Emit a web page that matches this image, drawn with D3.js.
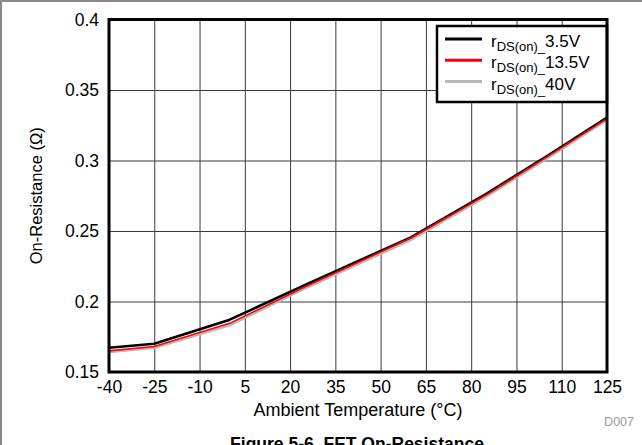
<!DOCTYPE html>
<html>
<head>
<meta charset="utf-8">
<script src="https://cdn.jsdelivr.net/npm/d3@7"></script>
<style>
  html, body { margin: 0; padding: 0; background: #fff; }
  svg { display: block; font-family: "Liberation Sans", Arial, sans-serif; }
</style>
</head>
<body>
<svg id="chart" width="642" height="445"></svg>
<script>
// ---- data ----
const temps = [-40, -25, 0, 25, 60, 85, 105, 125];
const r35  = [0.1672, 0.1700, 0.1871, 0.2118, 0.2455, 0.2763, 0.3030, 0.3305];
const r135 = [0.1650, 0.1681, 0.1845, 0.2105, 0.2450, 0.2756, 0.3024, 0.3297];
const r40  = [0.1642, 0.1672, 0.1832, 0.2094, 0.2437, 0.2745, 0.3013, 0.3288];
const seriesNames = ["3.5V", "13.5V", "40V"];
const seriesColors = ["#000000", "#ff0000", "#b8b8b8"];
const xTicks = [-40, -25, -10, 5, 20, 35, 50, 65, 80, 95, 110, 125];
const yTicks = [0.15, 0.2, 0.25, 0.3, 0.35, 0.4];
const xTickLabels = ["-40", "-25", "-10", "5", "20", "35", "50", "65", "80", "95", "110", "125"];
const yTickLabels = ["0.15", "0.2", "0.25", "0.3", "0.35", "0.4"];
const xTitle = "Ambient Temperature (°C)";
const yTitle = "On-Resistance (Ω)";
const figTitle = "Figure 5-6. FET On-Resistance";
const figId = "D007";

const svg = d3.select("#chart");
const L = 109, R = 607, T = 19.5, B = 372;
const x = d3.scaleLinear().domain([-40, 125]).range([L, R]);
const y = d3.scaleLinear().domain([0.15, 0.4]).range([B, T]);

// outer frame (top & left visible)
svg.append("line").attr("x1", 0).attr("x2", 642).attr("y1", 1).attr("y2", 1)
  .attr("stroke", "#8a8a8a").attr("stroke-width", 2);
svg.append("line").attr("x1", 1).attr("x2", 1).attr("y1", 0).attr("y2", 445)
  .attr("stroke", "#8a8a8a").attr("stroke-width", 2);

// gridlines
const gx = svg.append("g").attr("transform", `translate(0,${B})`)
  .call(d3.axisBottom(x).tickValues(xTicks).tickSize(-(B - T)).tickFormat(""));
gx.select(".domain").remove();
gx.selectAll("line").attr("stroke", "#3a3a3a").attr("stroke-width", 1);
const gy = svg.append("g").attr("transform", `translate(${L},0)`)
  .call(d3.axisLeft(y).tickValues(yTicks).tickSize(-(R - L)).tickFormat(""));
gy.select(".domain").remove();
gy.selectAll("line").attr("stroke", "#3a3a3a").attr("stroke-width", 1);

// tick labels
const ax = svg.append("g").attr("transform", `translate(0,${B})`)
  .call(d3.axisBottom(x).tickValues(xTicks).tickSize(0).tickPadding(9)
    .tickFormat((d, i) => xTickLabels[i]));
ax.select(".domain").remove();
ax.selectAll("text").attr("font-size", 17.5).attr("fill", "#000")
  .attr("font-family", "Liberation Sans, Arial, sans-serif");
const ay = svg.append("g").attr("transform", `translate(${L},0)`)
  .call(d3.axisLeft(y).tickValues(yTicks).tickSize(0).tickPadding(10)
    .tickFormat((d, i) => yTickLabels[i]));
ay.select(".domain").remove();
ay.selectAll("text").attr("font-size", 17.5).attr("fill", "#000")
  .attr("font-family", "Liberation Sans, Arial, sans-serif");

// lines
const allSeries = [r35, r135, r40];
const widths = [2.6, 1.6, 2.6];
const line = d3.line().x((d, i) => x(temps[i])).y(d => y(d));
[2, 0, 1].forEach(k => {
  svg.append("path").datum(allSeries[k])
    .attr("d", line).attr("fill", "none")
    .attr("stroke", seriesColors[k]).attr("stroke-width", widths[k])
    .attr("stroke-linejoin", "round");
});

// legend
const lg = svg.append("g");
lg.append("rect").attr("x", 437).attr("y", 26).attr("width", R - 437).attr("height", 76)
  .attr("fill", "#fff").attr("stroke", "#000").attr("stroke-width", 2.5);
seriesNames.forEach((name, i) => {
  const cy = 39 + i * 21.3;
  lg.append("line").attr("x1", 445).attr("x2", 482).attr("y1", cy).attr("y2", cy)
    .attr("stroke", seriesColors[i]).attr("stroke-width", 3);
  const t = lg.append("text").attr("x", 491).attr("y", cy + 8).attr("font-size", 17).attr("fill", "#000");
  t.append("tspan").text("r");
  t.append("tspan").attr("font-size", 13).attr("dy", 4).text("DS(on)_");
  t.append("tspan").attr("dy", -4).text(name);
});

// plot border
svg.append("rect").attr("x", L).attr("y", T).attr("width", R - L).attr("height", B - T)
  .attr("fill", "none").attr("stroke", "#000").attr("stroke-width", 3);

// axis titles
svg.append("text").attr("x", (L + R) / 2).attr("y", 416).attr("text-anchor", "middle")
  .attr("font-size", 18).text(xTitle);
svg.append("text").attr("transform", `translate(42,${(T + B) / 2}) rotate(-90)`)
  .attr("text-anchor", "middle").attr("font-size", 16.5).text(yTitle);

// figure id
svg.append("text").attr("x", 634).attr("y", 426).attr("text-anchor", "end")
  .attr("font-size", 12.5).attr("fill", "#9a9a9a").text(figId);

// figure title (cut off at bottom, as in the reference)
svg.append("text").attr("x", 357).attr("y", 450).attr("text-anchor", "middle")
  .attr("font-size", 17.5).attr("font-weight", "bold").text(figTitle);
</script>
</body>
</html>
